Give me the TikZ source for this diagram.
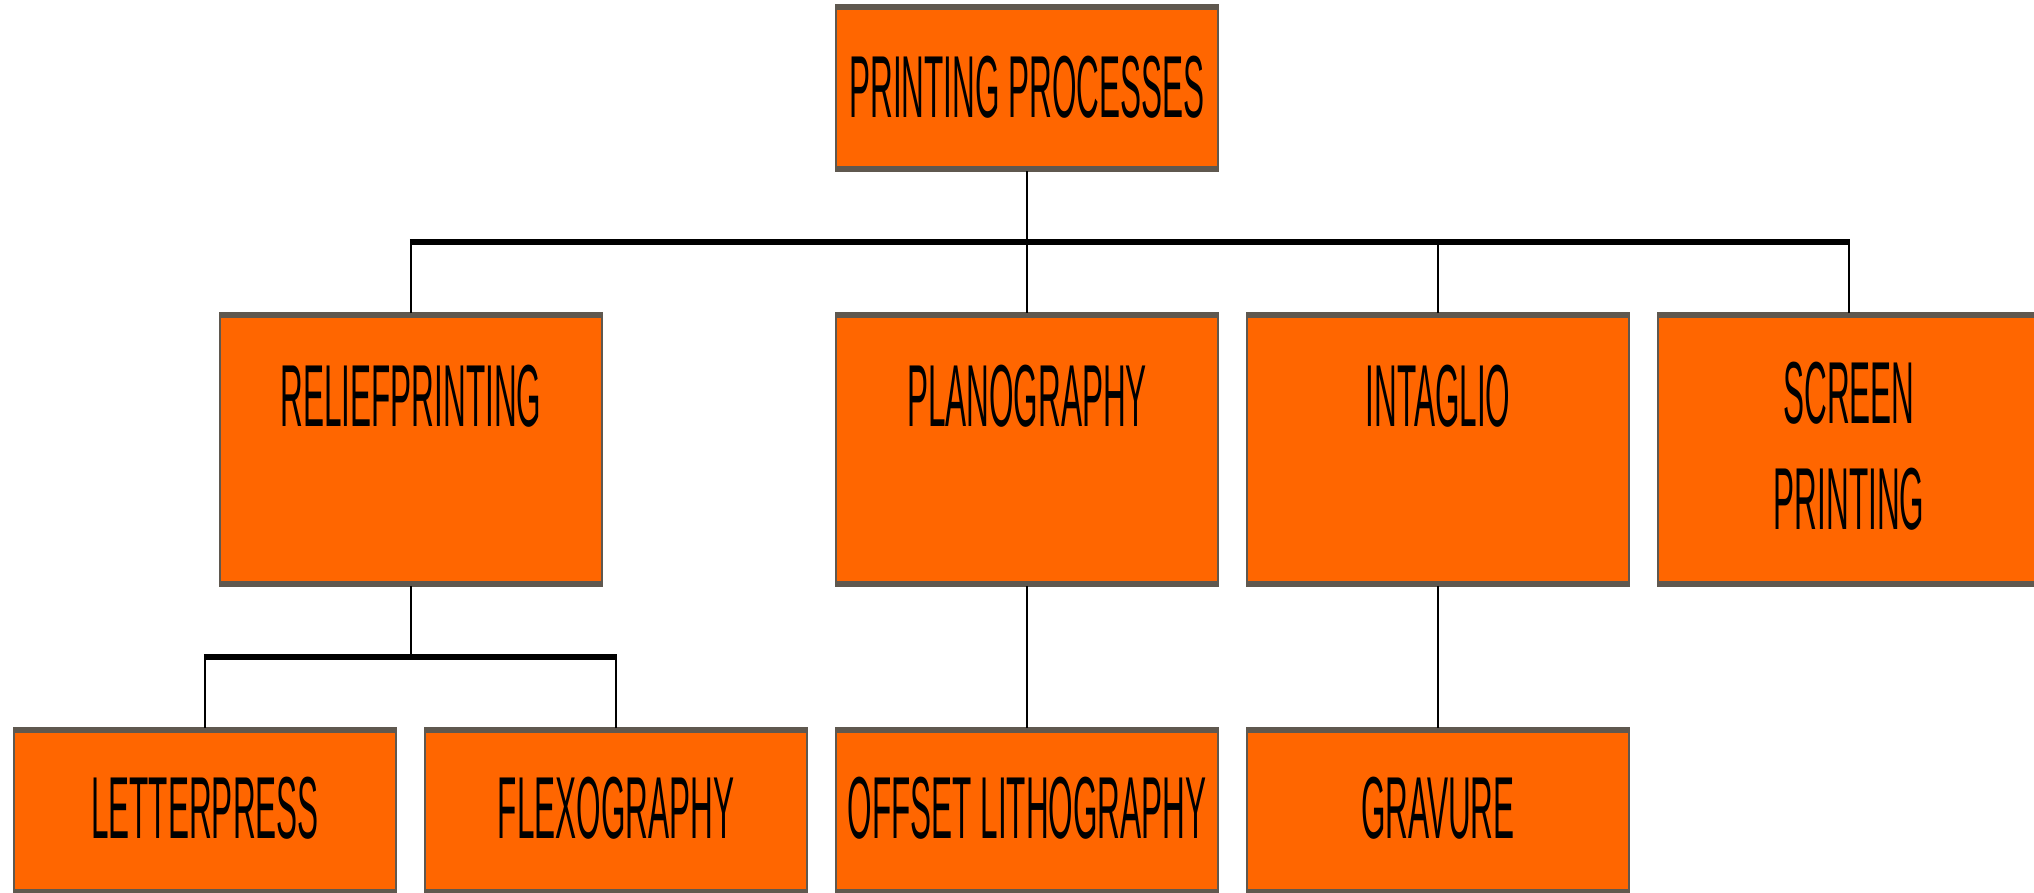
\documentclass[tikz,border=0pt]{standalone}
\usepackage{fontspec}
\newfontfamily\condsans[FakeStretch=0.358]{Liberation Sans}
\definecolor{boxfill}{HTML}{FF6600}
\definecolor{boxrim}{HTML}{5F584F}
\tikzset{
  procbox/.style={draw=boxrim, line width=2pt, fill=boxfill, minimum width=382pt,
                  inner sep=0pt, outer sep=0pt},
  toprow/.style={procbox, minimum height=166pt},
  midrow/.style={procbox, minimum height=273pt},
  lbl/.style={font=\condsans\fontsize{88}{106}\selectfont, inner sep=0pt, text=black},
  stem/.style={line width=2.5pt, black},
  bus/.style={line width=5.5pt, black},
  rim/.style={line width=6pt, boxrim}
}
\begin{document}
\begin{tikzpicture}[x=1pt, y=-1pt]
  \useasboundingbox (0,0) rectangle (2034,892);
  \fill[white] (0,0) rectangle (2034,892);
  \clip (0,0) rectangle (2034,892);

  % boxes
  \node[toprow] (root)   at (1027,88)    {};
  \node[midrow] (relief) at (411,449.5)  {};
  \node[midrow] (plano)  at (1027,449.5) {};
  \node[midrow] (intag)  at (1438,449.5) {};
  \node[midrow] (screen) at (1849,449.5) {};
  \node[toprow] (letter) at (205,811)    {};
  \node[toprow] (flexo)  at (616,811)    {};
  \node[toprow] (offset) at (1027,811)   {};
  \node[toprow] (grav)   at (1438,811)   {};

  % heavy rims on the top and bottom edges of every box
  \foreach \b in {root,relief,plano,intag,screen,letter,flexo,offset,grav}{
    \draw[rim] ([xshift=-1pt,yshift=-2pt]\b.north west) -- ([xshift=1pt,yshift=-2pt]\b.north east);
    \draw[rim] ([xshift=-1pt,yshift=2pt]\b.south west) -- ([xshift=1pt,yshift=2pt]\b.south east);
  }

  % labels
  \node[lbl, anchor=base] (rootT)   at (1027,117) {PRINTING PROCESSES};
  \node[lbl, anchor=base] (reliefT) at (411,426)  {RELIEFPRINTING};
  \node[lbl, anchor=base] (planoT)  at (1027,426) {PLANOGRAPHY};
  \node[lbl, anchor=base] (intagT)  at (1438,426) {INTAGLIO};
  \node[lbl, anchor=north, align=center] (screenT) at (1849,362) {SCREEN\\PRINTING};
  \node[lbl, anchor=base] (letterT) at (205,838)  {LETTERPRESS};
  \node[lbl, anchor=base] (flexoT)  at (616,838)  {FLEXOGRAPHY};
  \node[lbl, anchor=base] (offsetT) at (1027,838) {OFFSET LITHOGRAPHY};
  \node[lbl, anchor=base] (gravT)   at (1438,838) {GRAVURE};

  % connectors
  \coordinate (busA) at (1027,242);
  \coordinate (busB) at (411,657);

  \draw[stem] (root.south) -- (plano.north);
  \draw[stem] (relief.north) -- (relief.north |- busA);
  \draw[stem] (intag.north)  -- (intag.north |- busA);
  \draw[stem] (screen.north) -- (screen.north |- busA);
  \draw[bus]  ([xshift=-1.25pt]relief.north |- busA) -- ([xshift=1.25pt]screen.north |- busA);

  \draw[stem] (relief.south) -- (busB);
  \draw[stem] (letter.north) -- (letter.north |- busB);
  \draw[stem] (flexo.north)  -- (flexo.north |- busB);
  \draw[bus]  ([xshift=-1.25pt]letter.north |- busB) -- ([xshift=1.25pt]flexo.north |- busB);

  \draw[stem] (plano.south) -- (offset.north);
  \draw[stem] (intag.south) -- (grav.north);
\end{tikzpicture}
\end{document}
